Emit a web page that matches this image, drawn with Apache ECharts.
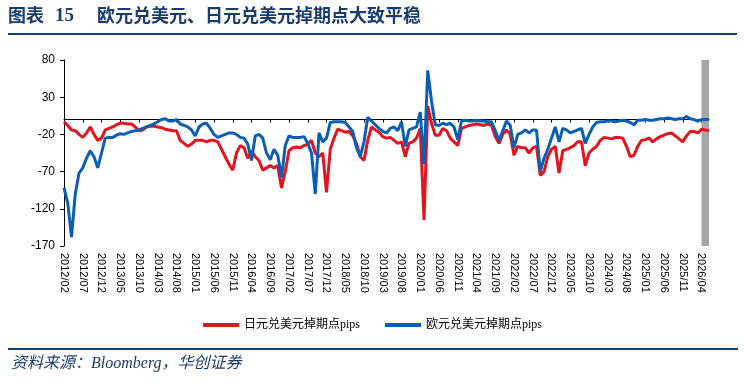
<!DOCTYPE html>
<html>
<head>
<meta charset="utf-8">
<title>欧元兑美元、日元兑美元掉期点</title>
<script src="https://cdn.jsdelivr.net/npm/echarts@6/dist/echarts.min.js"></script>
<style>
  html, body { margin: 0; padding: 0; background: #fff; }
  #main { width: 745px; height: 383px; }
</style>
</head>
<body>
<div id="main"></div>
<script>
// 月度类目 2012/02 - 2026/06
const months = [];
for (let y = 2012; y <= 2026; y++) {
  for (let m = 1; m <= 12; m++) {
    if (y === 2012 && m < 2) continue;
    if (y === 2026 && m > 6) break;
    months.push(y + "/" + (m < 10 ? "0" + m : m));
  }
}

const yTicks = [-170, -120, -70, -20, 30, 80];

// 日元兑美元掉期点 pips（读图估算）
const jpyPips = [
  -3, -8, -14, -15, -20, -24, -18, -10, -20, -28, -25,
  -14, -12, -10, -7, -5, -5, -6, -6, -10, -15,
  -14, -10, -9, -9, -10, -11, -13, -14, -15, -15,
  -28, -32, -36, -33, -28, -28, -28, -30, -28, -28,
  -30, -40, -50, -60, -68, -45, -35, -38, -52, -42,
  -50, -55, -68, -65, -62, -65, -62, -92, -70, -42,
  -38, -37, -38, -35, -33, -28, -45, -50, -45, -98,
  -40, -25, -13, -15, -17, -16, -22, -32, -50, -55,
  -28, -10, -14, -17, -23, -25, -24, -28, -32, -30,
  -50, -32, -30, -25, -12, -135, 18, -5, -21, -21,
  -12, -15, -25, -30, -35, -12, -10, -8, -7, -6,
  -7, -8, -6, -8, -23, -32, -20, -14, -20, -48,
  -36, -38, -38, -45, -38, -36, -75, -70, -50, -40,
  -36, -72, -42, -40, -38, -35, -30, -30, -62, -45,
  -40, -36, -28, -24, -25, -26, -24, -24, -25, -36,
  -50, -48, -36, -28, -27, -25, -30, -26, -23, -21,
  -19, -18, -22, -26, -30, -22, -16, -16, -18, -13, -14, -15
];

// 欧元兑美元掉期点 pips（读图估算）
const eurPips = [
  -92, -112, -158, -100, -72, -65, -52, -42, -50, -65, -45,
  -25, -24, -24, -21, -19, -20, -18, -16, -15, -14,
  -12, -10, -8, -6, -3, 0, 1, -2, -2, 0,
  -6, -8, -10, -14, -22, -10, -6, -5, -12, -20,
  -24, -22, -20, -18, -18, -20, -24, -25, -33, -55,
  -22, -20, -25, -45, -54, -40, -48, -78, -35, -22,
  -24, -24, -24, -23, -32, -45, -100, -18, -30, -25,
  -4, -3, -3, -3, -4, -10, -16, -38, -50, -30,
  3, -2, -7, -12, -16, -18, -12, -10, -15, -3,
  -36, -14, -12, -10, 10, -60, 66, 25, -7, -8,
  -5, -7, -5, -10, -27, -2, -1, -2, -2, -1,
  -2, -2, -3, -3, -15, -28, -15, -2, -8, -38,
  -20, -18, -14, -18, -14, -14, -70, -52, -40, -25,
  -10, -30, -12, -14, -18, -16, -14, -12, -32, -20,
  -10, -4, -3, -3, -2, -2, -3, -2, -1, -2,
  -4, -7, -1, -1, 0, -1, -1, 0, 1, 1,
  2, 1, 0, 1, 1, 4, 1, 0, -2, 0, 0, 0
];

const shadeFrom = "2026/04";
const shadeTo = "2026/06";

const navy = "#1B3D6E";
const red = "#E3141D";
const blue = "#0A5EB5";

const myChart = echarts.init(document.getElementById("main"));

myChart.setOption({
  animation: false,
  backgroundColor: "#fff",
  graphic: [
    {
      type: "text",
      left: 8,
      top: 6,
      style: {
        text: "图表",
        font: "bold 18px 'Noto Sans CJK SC'",
        fill: navy,
      },
    },
    {
      type: "text",
      left: 55,
      top: 7,
      style: {
        text: "15",
        font: "bold 19px 'Liberation Serif'",
        fill: navy,
      },
    },
    {
      type: "text",
      left: 97,
      top: 6,
      style: {
        text: "欧元兑美元、日元兑美元掉期点大致平稳",
        font: "bold 18px 'Noto Sans CJK SC'",
        fill: navy,
      },
    },
    {
      type: "line",
      shape: { x1: 8, y1: 34, x2: 737, y2: 34 },
      style: { stroke: navy, lineWidth: 2 },
    },
    {
      type: "line",
      shape: { x1: 8, y1: 349, x2: 738, y2: 349 },
      style: { stroke: navy, lineWidth: 2 },
    },
    {
      type: "text",
      left: 11,
      top: 356,
      style: {
        text: "资料来源：Bloomberg，华创证券",
        font: "italic 16px 'Liberation Serif', 'Noto Sans CJK SC'",
        fill: navy,
      },
    },
  ],
  legend: {
    top: 314,
    left: "center",
    itemWidth: 36,
    itemHeight: 4,
    itemGap: 25,
    icon: "rect",
    textStyle: {
      fontFamily: "'Liberation Serif', 'Noto Sans CJK SC'",
      fontSize: 12,
      color: "#000",
    },
    data: ["日元兑美元掉期点pips", "欧元兑美元掉期点pips"],
  },
  grid: {
    left: 64,
    right: 36,
    top: 60,
    bottom: 137,
  },
  xAxis: [
    {
      type: "category",
      position: "bottom",
      boundaryGap: false,
      data: months,
      axisLine: { show: false, onZero: false },
      axisTick: { show: false },
      axisLabel: {
        interval: 4,
        rotate: -90,
        margin: 7,
        fontFamily: "'Liberation Sans', sans-serif",
        fontSize: 11,
        color: "#000",
      },
      splitLine: { show: false },
    },
    {
      type: "category",
      position: "bottom",
      boundaryGap: false,
      data: months,
      axisLine: {
        show: true,
        onZero: true,
        onZeroAxisIndex: 0,
        lineStyle: { color: "#000", width: 1 },
      },
      axisTick: {
        show: true,
        interval: 4,
        length: 3,
        lineStyle: { color: "#000" },
      },
      axisLabel: { show: false },
      splitLine: { show: false },
    },
  ],
  yAxis: {
    type: "value",
    min: -170,
    max: 80,
    axisLine: { show: true, lineStyle: { color: "#000", width: 1 } },
    axisTick: {
      show: true,
      length: 4,
      customValues: yTicks,
      lineStyle: { color: "#000" },
    },
    axisLabel: {
      customValues: yTicks,
      margin: 9,
      fontFamily: "'Liberation Sans', sans-serif",
      fontSize: 12,
      color: "#000",
    },
    splitLine: { show: false },
  },
  series: [
    {
      name: "日元兑美元掉期点pips",
      type: "line",
      xAxisIndex: 0,
      data: jpyPips,
      showSymbol: false,
      symbol: "none",
      lineStyle: { color: red, width: 3 },
      itemStyle: { color: red },
      markArea: {
        silent: true,
        itemStyle: { color: "#A6A6A6", opacity: 1 },
        data: [[{ xAxis: shadeFrom }, { xAxis: shadeTo }]],
      },
    },
    {
      name: "欧元兑美元掉期点pips",
      type: "line",
      xAxisIndex: 0,
      data: eurPips,
      showSymbol: false,
      symbol: "none",
      lineStyle: { color: blue, width: 3 },
      itemStyle: { color: blue },
    },
  ],
});
</script>
</body>
</html>
